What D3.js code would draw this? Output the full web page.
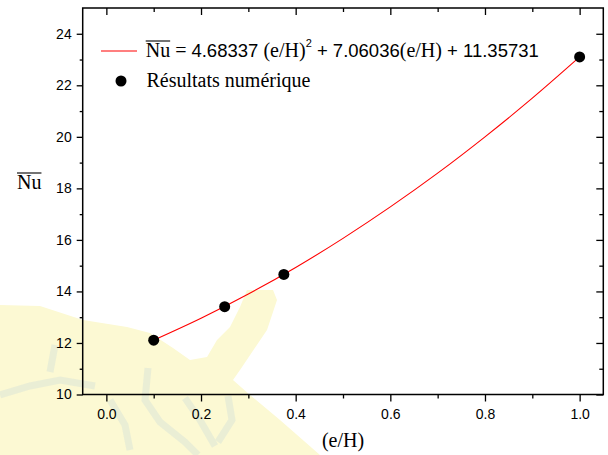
<!DOCTYPE html>
<html>
<head>
<meta charset="utf-8">
<script src="https://cdn.jsdelivr.net/npm/d3@7"></script>
<style>
body { margin: 0; background: #fff; }
.axis text { font-family: Arial, "Liberation Sans", sans-serif; font-size: 14px; fill: #000; }
.axis line { stroke: #000; stroke-width: 1.3; }
.serif { font-family: "Times New Roman", "Liberation Serif", serif; font-size: 20px; }
.sans { font-family: Arial, "Liberation Sans", sans-serif; font-size: 18.5px; }
</style>
</head>
<body>
<svg id="chart" width="608" height="455"></svg>
<script>
// numerical results
const pointsX = [0.1, 0.25, 0.375, 1.0]
const pointsY = [12.11, 13.41, 14.66, 23.10]

// fitted curve
const fitX = [0.1, 0.2, 0.3, 0.4, 0.5, 0.6, 0.7, 0.8, 0.9, 1.0]
const fitY = [12.11, 12.96, 13.90, 14.93, 16.06, 17.28, 18.59, 20.00, 21.50, 23.10]

const xTicks = [0.0, 0.2, 0.4, 0.6, 0.8, 1.0]
const xMinor = [0.1, 0.3, 0.5, 0.7, 0.9]
const yTicks = [10, 12, 14, 16, 18, 20, 22, 24]
const yMinor = [11, 13, 15, 17, 19, 21, 23]

const coefs = ["4.68337", "7.06036", "11.35731"]
const seriesName = "Résultats numérique"

function draw_chart(svgId) {
    const left = 82.7, right = 603.3, top = 8, bottom = 394.5
    const svg = d3.select(`#${svgId}`)

    let xScale = d3.scaleLinear().domain([-0.05, 1.05]).range([left, right])
    let yScale = d3.scaleLinear().domain([10, 25]).range([bottom, top])

    // pale watermark in the lower left corner
    const wm = svg.append("g")
    wm.append("path")
        .attr("d", "M0,305 L40,306 L83,320 L127,327 L150,333 L173,348 L190,360 L207,357 L217,340 L230,327 L240,307 L247,290 L273,290 L277,300 L267,330 L240,370 L233,380 L250,395 L280,420 L320,455 L0,455 Z")
        .style("fill", "#fcf9d3")
    const strokes = [
        "M0,395 L30,386 L60,380 L95,386",
        "M50,372 L55,345",
        "M148,368 L145,400 L160,422 L185,442 L198,455",
        "M185,398 L200,420 L215,446",
        "M228,396 L232,420 L218,442",
        "M110,400 L125,425 L130,450"
    ]
    wm.selectAll(".wmstroke").data(strokes).enter().append("path")
        .attr("d", d => d)
        .style("fill", "none")
        .style("stroke", "#e2e9d6")
        .style("stroke-width", 7)
        .style("opacity", 0.7)

    function clean(g) { g.select(".domain").remove() }

    // bottom / left axes, ticks out
    svg.append("g").attr("class", "axis")
        .attr("transform", `translate(0,${bottom})`)
        .call(d3.axisBottom(xScale).tickValues(xTicks).tickSize(7).tickPadding(8).tickFormat(d3.format(".1f")))
        .call(clean)
    svg.append("g").attr("class", "axis")
        .attr("transform", `translate(0,${bottom})`)
        .call(d3.axisBottom(xScale).tickValues(xMinor).tickSize(4).tickFormat(""))
        .call(clean)
    svg.append("g").attr("class", "axis")
        .attr("transform", `translate(${left},0)`)
        .call(d3.axisLeft(yScale).tickValues(yTicks).tickSize(6).tickPadding(5))
        .call(clean)
    svg.append("g").attr("class", "axis")
        .attr("transform", `translate(${left},0)`)
        .call(d3.axisLeft(yScale).tickValues(yMinor).tickSize(3).tickFormat(""))
        .call(clean)

    // top / right axes, ticks in
    svg.append("g").attr("class", "axis")
        .attr("transform", `translate(0,${top})`)
        .call(d3.axisBottom(xScale).tickValues(xTicks).tickSize(7).tickFormat(""))
        .call(clean)
    svg.append("g").attr("class", "axis")
        .attr("transform", `translate(0,${top})`)
        .call(d3.axisBottom(xScale).tickValues(xMinor).tickSize(4).tickFormat(""))
        .call(clean)
    svg.append("g").attr("class", "axis")
        .attr("transform", `translate(${right},0)`)
        .call(d3.axisLeft(yScale).tickValues(yTicks).tickSize(7).tickFormat(""))
        .call(clean)
    svg.append("g").attr("class", "axis")
        .attr("transform", `translate(${right},0)`)
        .call(d3.axisLeft(yScale).tickValues(yMinor).tickSize(4).tickFormat(""))
        .call(clean)

    // frame
    svg.append("rect")
        .attr("x", left).attr("y", top)
        .attr("width", right - left).attr("height", bottom - top)
        .style("fill", "none").style("stroke", "#000").style("stroke-width", 1.5)

    // fit line
    let line = d3.line()
        .x((d, i) => xScale(fitX[i]))
        .y((d, i) => yScale(fitY[i]))
        .curve(d3.curveMonotoneX)
    svg.append("path")
        .datum(fitX)
        .attr("d", line)
        .style("fill", "none").style("stroke", "#ff0000").style("stroke-width", 1.1)

    // points
    svg.selectAll(".pt")
        .data(pointsX)
        .enter()
        .append("circle")
        .attr("cx", (d, i) => xScale(pointsX[i]))
        .attr("cy", (d, i) => yScale(pointsY[i]))
        .attr("r", 5.5)
        .style("fill", "#000")

    // overlined Nu helper
    function nuBar(x, y) {
        let t = svg.append("text").attr("class", "serif").attr("x", x).attr("y", y).text("Nu")
        let w = t.node().getComputedTextLength()
        svg.append("line")
            .attr("x1", x).attr("x2", x + w)
            .attr("y1", y - 16).attr("y2", y - 16)
            .style("stroke", "#000").style("stroke-width", 1.1)
        return w
    }

    // legend
    svg.append("line")
        .attr("x1", 101).attr("x2", 137).attr("y1", 51).attr("y2", 51)
        .style("stroke", "#ff0000").style("stroke-width", 1.1)
    let w = nuBar(145.7, 57)
    let eq = svg.append("text").attr("x", 145.7 + w).attr("y", 57).style("white-space", "pre")
    eq.append("tspan").attr("class", "serif").text(" = ")
    eq.append("tspan").attr("class", "sans").text(coefs[0] + " ")
    eq.append("tspan").attr("class", "serif").text("(e/H)")
    eq.append("tspan").attr("class", "sans").style("font-size", "11px").attr("dy", -10).text("2")
    eq.append("tspan").attr("class", "sans").attr("dy", 10).text(" + " + coefs[1])
    eq.append("tspan").attr("class", "serif").text("(e/H)")
    eq.append("tspan").attr("class", "sans").text(" + " + coefs[2])

    svg.append("circle").attr("cx", 121).attr("cy", 81).attr("r", 5.5).style("fill", "#000")
    svg.append("text").attr("class", "serif").attr("x", 146.5).attr("y", 87).text(seriesName)

    // axis labels
    nuBar(17, 189)
    svg.append("text").attr("class", "serif")
        .attr("x", (left + right) / 2).attr("y", 447)
        .attr("text-anchor", "middle")
        .text("(e/H)")
}

draw_chart("chart")
</script>
</body>
</html>
